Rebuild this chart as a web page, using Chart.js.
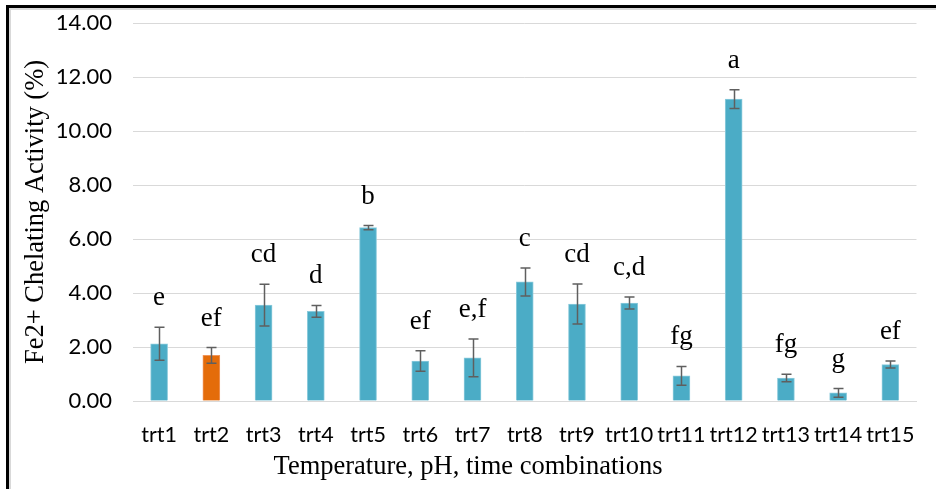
<!DOCTYPE html>
<html>
<head>
<meta charset="utf-8">
<script src="https://cdn.jsdelivr.net/npm/chart.js@4"></script>
<style>
html,body{margin:0;padding:0;background:#fff;}
#wrap{position:relative;width:936px;height:489px;}
canvas{display:block;}
</style>
</head>
<body>
<div id="wrap"><canvas id="c" width="936" height="489"></canvas></div>
<script>
// ---- data ----
const categories = ["trt1","trt2","trt3","trt4","trt5","trt6","trt7","trt8","trt9","trt10","trt11","trt12","trt13","trt14","trt15"];
const chelating = [2.12, 1.69, 3.55, 3.32, 6.42, 1.48, 1.60, 4.41, 3.59, 3.63, 0.93, 11.18, 0.85, 0.30, 1.35];
const errors    = [0.61, 0.29, 0.77, 0.22, 0.08, 0.38, 0.70, 0.52, 0.74, 0.22, 0.35, 0.35, 0.14, 0.16, 0.13];
const letters   = ["e","ef","cd","d","b","ef","e,f","c","cd","c,d","fg","a","fg","g","ef"];
const yTicks    = [0, 2, 4, 6, 8, 10, 12, 14];
const highlighted = "trt2";

const yTitle = "Fe2+ Chelating Activity (%)";
const xTitle = "Temperature, pH, time combinations";

const BLUE = "#4BACC6", ORANGE = "#E46C0A";
const barColors = categories.map(c => c === highlighted ? ORANGE : BLUE);
const barBorders = categories.map(c => c === highlighted ? "#F0955A" : "#8CCBDC");

const decor = {
  id: "decor",
  beforeDraw(chart) {
    const ctx = chart.ctx;
    ctx.save();
    ctx.fillStyle = "#fff";
    ctx.fillRect(0, 0, chart.width, chart.height);
    // frame (top and left edges)
    ctx.fillStyle = "#D9D9D9";
    ctx.fillRect(9, 8, chart.width - 9, 2);
    ctx.fillRect(9, 8, 2, chart.height - 8);
    ctx.fillStyle = "#000";
    ctx.fillRect(6, 5, chart.width - 6, 3);
    ctx.fillRect(6, 5, 3, chart.height - 5);
    ctx.restore();
  },
  afterDatasetsDraw(chart) {
    const ctx = chart.ctx;
    const y = chart.scales.y;
    const meta = chart.getDatasetMeta(0);
    ctx.save();
    // error bars
    ctx.strokeStyle = "#5F5F5F";
    ctx.lineWidth = 1.5;
    meta.data.forEach((bar, i) => {
      const cx = Math.round(bar.x) + 0.5;
      const top = y.getPixelForValue(chelating[i] + errors[i]);
      const bot = y.getPixelForValue(chelating[i] - errors[i]);
      ctx.beginPath();
      ctx.moveTo(cx, top); ctx.lineTo(cx, bot);
      ctx.moveTo(cx - 5, top); ctx.lineTo(cx + 5, top);
      ctx.moveTo(cx - 5, bot); ctx.lineTo(cx + 5, bot);
      ctx.stroke();
    });
    // significance letters
    ctx.fillStyle = "#000";
    ctx.font = "27px 'Liberation Serif', 'Times New Roman', serif";
    ctx.textAlign = "center";
    ctx.textBaseline = "alphabetic";
    meta.data.forEach((bar, i) => {
      const top = y.getPixelForValue(chelating[i] + errors[i]);
      ctx.fillText(letters[i], bar.x, top - 22);
    });
    // axis titles
    ctx.font = "26.5px 'Liberation Serif', 'Times New Roman', serif";
    ctx.textBaseline = "middle";
    ctx.fillText(xTitle, 468, 467);
    ctx.translate(36, (chart.chartArea.top + chart.chartArea.bottom) / 2);
    ctx.rotate(-Math.PI / 2);
    ctx.fillText(yTitle, 0, 0);
    ctx.restore();
  }
};

new Chart(document.getElementById("c"), {
  type: "bar",
  data: {
    labels: categories,
    datasets: [{
      data: chelating,
      backgroundColor: barColors,
      borderColor: barBorders,
      borderWidth: 1,
      barThickness: 17
    }]
  },
  options: {
    responsive: false,
    animation: false,
    devicePixelRatio: 1,
    layout: { padding: { top: 0, right: 16, left: 0, bottom: 0 } },
    plugins: { legend: { display: false }, tooltip: { enabled: false } },
    scales: {
      x: {
        grid: { display: false, drawTicks: false },
        border: { display: true, color: "#D9D9D9", width: 1 },
        ticks: {
          color: "#000",
          font: { family: "Lato", size: 21.5 },
          padding: 21,
          maxRotation: 0, minRotation: 0, autoSkip: false
        },
        afterFit(s) { s.height = 88; }
      },
      y: {
        min: 0, max: 14,
        afterBuildTicks(s) { s.ticks = yTicks.map(v => ({ value: v })); },
        grid: { color: "#D9D9D9", lineWidth: 1, drawTicks: false },
        border: { display: false },
        ticks: {
          color: "#000",
          font: { family: "Lato", size: 22 },
          padding: 21,
          callback: v => Number(v).toFixed(2)
        },
        afterFit(s) { s.width = 133; s.paddingTop = 23; }
      }
    }
  },
  plugins: [decor]
});
</script>
</body>
</html>
